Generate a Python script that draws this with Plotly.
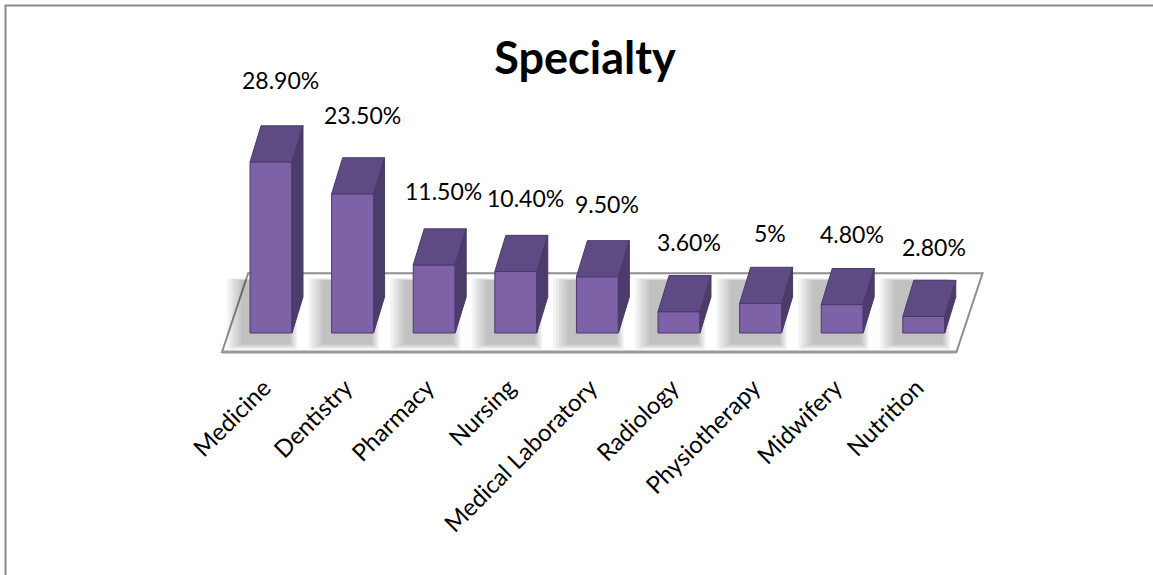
import plotly.graph_objects as go

categories = ["Medicine", "Dentistry", "Pharmacy", "Nursing", "Medical Laboratory",
              "Radiology", "Physiotherapy", "Midwifery", "Nutrition"]
values = [28.9, 23.5, 11.5, 10.4, 9.5, 3.6, 5, 4.8, 2.8]
value_labels = ["28.90%", "23.50%", "11.50%", "10.40%", "9.50%", "3.60%", "5%", "4.80%", "2.80%"]

W, H = 1153, 575
# pixel frame of the plotting area
X0_PX, X_UNIT = 271, 81.6      # px of first category, px per category
Y0_PX, Y_UNIT = 333, 5.92      # px of value 0, px per percent
AXIS_PX = 368                  # px of the category axis line

# pseudo-3D geometry (in data units)
BAR_W = 0.514
DEPTH_X = 0.135
DEPTH_Y = 6.1
FLOOR_FRONT, FLOOR_BACK = -3.2, 10.1
FLOOR_LEFT, FLOOR_RIGHT = -0.60, 8.40
FLOOR_SKEW = 0.32

FRONT = "#7d62a8"
TOP = "#5f4b84"
SIDE = "#4c3c6c"
EDGE = "#4a3a68"
FONT = "Lato"

n = len(values)
idx = list(range(n))

fig = go.Figure()

shapes = []
# floor slab
floor_path = (f"M {FLOOR_LEFT} {FLOOR_FRONT} L {FLOOR_RIGHT} {FLOOR_FRONT} "
              f"L {FLOOR_RIGHT + FLOOR_SKEW} {FLOOR_BACK} L {FLOOR_LEFT + FLOOR_SKEW} {FLOOR_BACK} Z")
shapes.append(dict(type="path", xref="x", yref="y", path=floor_path, layer="below",
                   fillcolor="white", line=dict(color="#8e8e8e", width=2)))
# soft shadows cast on the floor, built from stacked translucent rects
for i, v in enumerate(values):
    x0, x1 = i - BAR_W / 2, i + BAR_W / 2
    for k in range(6):
        g = 0.035 * (5 - k)
        shapes.append(dict(type="rect", xref="x", yref="y", layer="below",
                           x0=x0 - 0.11 - g, x1=x1 - 0.02 + g * 0.5,
                           y0=-1.9 - g * 5, y1=min(FLOOR_BACK - 1.2, v + DEPTH_Y) + g * 2,
                           fillcolor="rgba(0,0,0,0.045)", line=dict(width=0)))
# front edge of the floor slab
shapes.append(dict(type="line", xref="x", yref="y", layer="below",
                   x0=FLOOR_LEFT, x1=FLOOR_RIGHT, y0=FLOOR_FRONT, y1=FLOOR_FRONT,
                   line=dict(color="#9a9a9a", width=3)))
# chart frame
shapes.append(dict(type="rect", xref="paper", yref="paper",
                   x0=5.5 / W, x1=1.05, y0=-0.05, y1=1 - 5.5 / H,
                   line=dict(color="#8a8a8a", width=2), fillcolor="rgba(0,0,0,0)"))

# front faces
fig.add_trace(go.Bar(x=idx, y=values, width=BAR_W,
                     marker=dict(color=FRONT, line=dict(color=EDGE, width=1)),
                     hoverinfo="skip"))

# top and side faces
tx, ty, sx, sy = [], [], [], []
for i, v in enumerate(values):
    x0, x1 = i - BAR_W / 2, i + BAR_W / 2
    tx += [x0, x1, x1 + DEPTH_X, x0 + DEPTH_X, x0, None]
    ty += [v, v, v + DEPTH_Y, v + DEPTH_Y, v, None]
    sx += [x1, x1 + DEPTH_X, x1 + DEPTH_X, x1, x1, None]
    sy += [0, DEPTH_Y, v + DEPTH_Y, v, 0, None]
fig.add_trace(go.Scatter(x=tx, y=ty, mode="lines", fill="toself", fillcolor=TOP,
                         line=dict(color=EDGE, width=1), hoverinfo="skip"))
fig.add_trace(go.Scatter(x=sx, y=sy, mode="lines", fill="toself", fillcolor=SIDE,
                         line=dict(color=EDGE, width=1), hoverinfo="skip"))

# value labels
annotations = []
for i, (v, t) in enumerate(zip(values, value_labels)):
    annotations.append(dict(x=i + 0.12, y=1.08 * v + 11.5, xref="x", yref="y",
                            text=t, showarrow=False, xanchor="center", yanchor="middle",
                            font=dict(family=FONT, size=23, color="black")))

x_range = [(0 - X0_PX) / X_UNIT, (W - X0_PX) / X_UNIT]
y_range = [(Y0_PX - AXIS_PX) / Y_UNIT, Y0_PX / Y_UNIT]

fig.update_layout(
    width=W, height=H,
    margin=dict(l=0, r=0, t=0, b=0),
    paper_bgcolor="white", plot_bgcolor="rgba(0,0,0,0)",
    showlegend=False,
    title=dict(text="Specialty", x=585 / W, y=1 - 58 / H, xanchor="center", yanchor="middle",
               font=dict(family=FONT, size=45, color="black", weight="bold")),
    shapes=shapes,
    annotations=annotations,
    xaxis=dict(range=x_range, tickmode="array", tickvals=idx, ticktext=categories,
               tickangle=-45, tickfont=dict(family=FONT, size=24, color="black"),
               ticklabelshift=-7,
               showgrid=False, zeroline=False, showline=False, ticks=""),
    yaxis=dict(range=y_range, domain=[(H - AXIS_PX) / H, 1], visible=False,
               showgrid=False, zeroline=False),
)

fig.write_html("out.html")
